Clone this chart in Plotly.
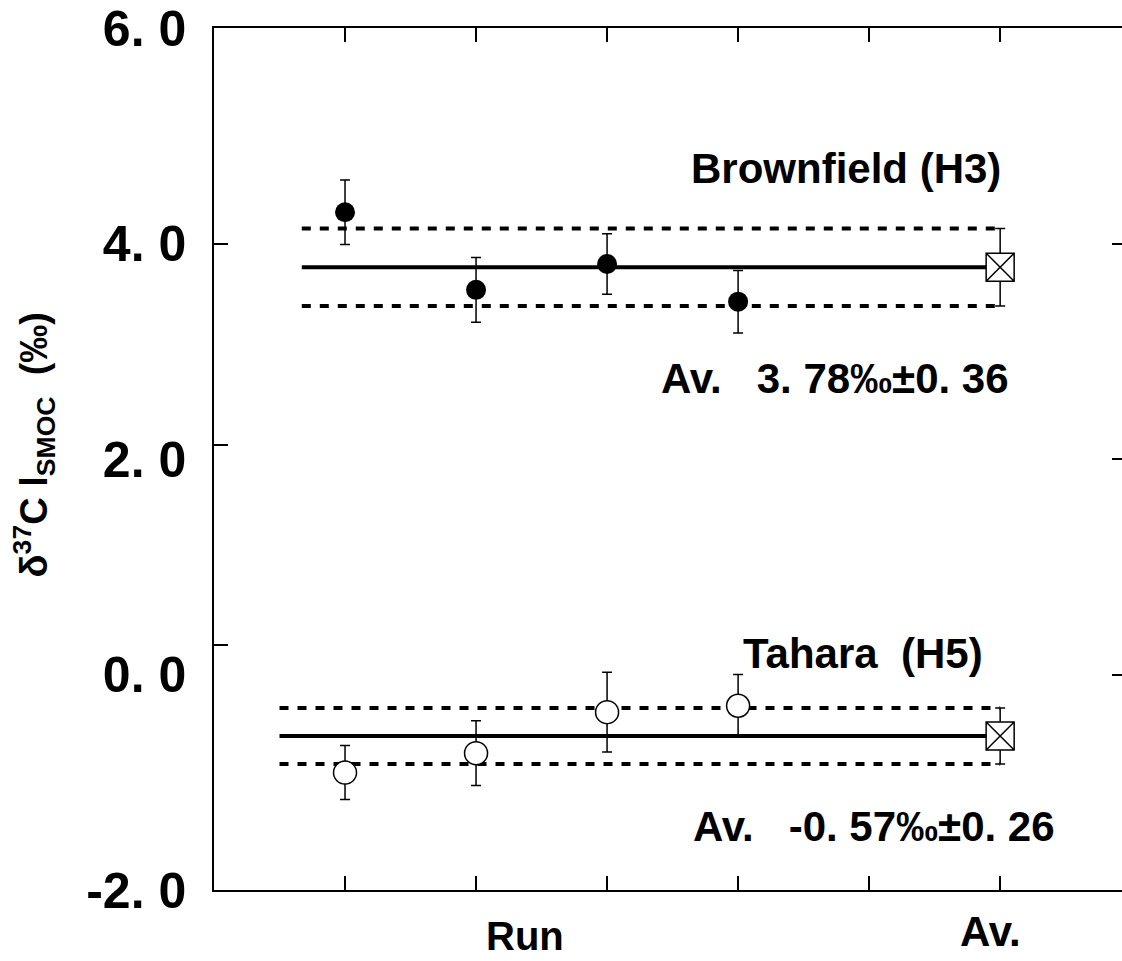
import plotly.graph_objects as go

# --- data -------------------------------------------------------------
run_x = [1, 2, 3, 4]          # run positions on the x axis
av_x = 6                      # position of the average marker ("Av.")

brown_vals = [4.29, 3.57, 3.81, 3.46]
brown_err = [0.30, 0.30, 0.28, 0.29]
brown_mean = 3.78
brown_sd = 0.36
brown_start = 0.67

tahara_vals = [-0.91, -0.73, -0.35, -0.29]
tahara_err = [0.25, 0.30, 0.37, 0.29]
tahara_mean = -0.57
tahara_sd = 0.26
tahara_start = 0.5

y_tick_vals = [-2, 0, 2, 4, 6]
y_tick_text = ["-2. 0", "0. 0", "2. 0", "4. 0", "6. 0"]
x_tick_vals = [1, 2, 3, 4, 5, 6]
left_tick_vals = [4.0, 2.13, 0.27]

FONT = "Liberation Sans, Arial, sans-serif"
BLACK = "#000000"

fig = go.Figure()


def band(start, mean, sd, end):
    """Mean line with dashed +/- sd lines."""
    for level, dash in ((mean + sd, "9px,9px"), (mean - sd, "9px,9px"), (mean, "solid")):
        fig.add_trace(go.Scatter(
            x=[start, end], y=[level, level], mode="lines",
            line=dict(color=BLACK, width=4, dash=dash),
            hoverinfo="skip", showlegend=False,
        ))


band(brown_start, brown_mean, brown_sd, av_x)
band(tahara_start, tahara_mean, tahara_sd, av_x)

# individual runs
fig.add_trace(go.Scatter(
    x=run_x, y=brown_vals, mode="markers",
    marker=dict(symbol="circle", size=20, color=BLACK, line=dict(width=0)),
    error_y=dict(type="data", array=brown_err, color=BLACK, thickness=1.5, width=5),
    showlegend=False, name="Brownfield (H3)",
))
fig.add_trace(go.Scatter(
    x=run_x, y=tahara_vals, mode="markers",
    marker=dict(symbol="circle", size=23, color="white", line=dict(width=1.5, color=BLACK)),
    error_y=dict(type="data", array=tahara_err, color=BLACK, thickness=1.5, width=5),
    showlegend=False, name="Tahara (H5)",
))

# averages
fig.add_trace(go.Scatter(
    x=[av_x, av_x], y=[brown_mean, tahara_mean], mode="markers",
    marker=dict(symbol="square-x", size=28, color="white", line=dict(width=1.5, color=BLACK)),
    error_y=dict(type="data", array=[brown_sd, tahara_sd], color=BLACK, thickness=1.5, width=5),
    showlegend=False, name="Av.",
))

# helper traces so the overlay axes (tick marks only) are drawn
fig.add_trace(go.Scatter(x=[], y=[], yaxis="y2", showlegend=False))
fig.add_trace(go.Scatter(x=[], y=[], yaxis="y3", showlegend=False))

y_range = [-2, 6]
x_range = [0, 6.93]

fig.update_layout(
    width=1122, height=961,
    margin=dict(l=214, r=0, t=28, b=71),
    paper_bgcolor="white", plot_bgcolor="white",
    showlegend=False,
    xaxis=dict(
        range=x_range, tickvals=x_tick_vals, showticklabels=False,
        ticks="inside", ticklen=14, tickwidth=1.5, tickcolor=BLACK,
        showline=True, linecolor=BLACK, linewidth=1.5, mirror="ticks",
        showgrid=False, zeroline=False,
    ),
    yaxis=dict(
        range=y_range, tickvals=y_tick_vals, ticktext=y_tick_text,
        ticks="", ticklabelstandoff=16,
        tickfont=dict(family=FONT, size=50, color=BLACK, weight="bold"),
        showline=True, linecolor=BLACK, linewidth=1.5,
        showgrid=False, zeroline=False,
    ),
    yaxis2=dict(
        range=y_range, overlaying="y", side="right", anchor="x",
        tickvals=y_tick_vals, showticklabels=False,
        ticks="inside", ticklen=10, tickwidth=1.5, tickcolor=BLACK,
        showline=False, showgrid=False, zeroline=False,
    ),
    yaxis3=dict(
        range=y_range, overlaying="y", side="left", anchor="x",
        tickvals=left_tick_vals, showticklabels=False,
        ticks="inside", ticklen=14, tickwidth=1.5, tickcolor=BLACK,
        showline=False, showgrid=False, zeroline=False,
    ),
)

# y-axis title
fig.add_annotation(
    xref="paper", yref="paper", x=-0.198, y=0.516,
    xanchor="center", yanchor="middle", textangle=-90, showarrow=False,
    text="δ<sup>37</sup>C l<sub>SMOC</sub>  (‰)",
    font=dict(family=FONT, size=38, color=BLACK, weight="bold"),
)

ann_font = dict(family=FONT, size=42, color=BLACK, weight="bold")
annotations = [
    dict(x=4.82, y=4.70, text="Brownfield (H3)"),
    dict(x=4.74, y=2.75, text=f"Av.  {brown_mean:.2f}‰±{brown_sd:.2f}".replace(".", ". ")),
    dict(x=4.95, y=0.195, text="Tahara  (H5)"),
    dict(x=5.04, y=-1.41, text=f"Av.  {tahara_mean:.2f}‰±{tahara_sd:.2f}".replace(".", ". ")),
]
for a in annotations:
    fig.add_annotation(xref="x", yref="y", showarrow=False, font=ann_font,
                       xanchor="center", yanchor="middle", **a)

# category labels under the x axis
fig.add_annotation(x=2.37, y=-0.053, xref="x", yref="paper", yanchor="middle",
                   text="Run", showarrow=False,
                   font=dict(family=FONT, size=40, color=BLACK, weight="bold"))
fig.add_annotation(x=5.93, y=-0.048, xref="x", yref="paper", yanchor="middle",
                   text="Av.", showarrow=False, font=ann_font)

fig.write_html("out.html")
